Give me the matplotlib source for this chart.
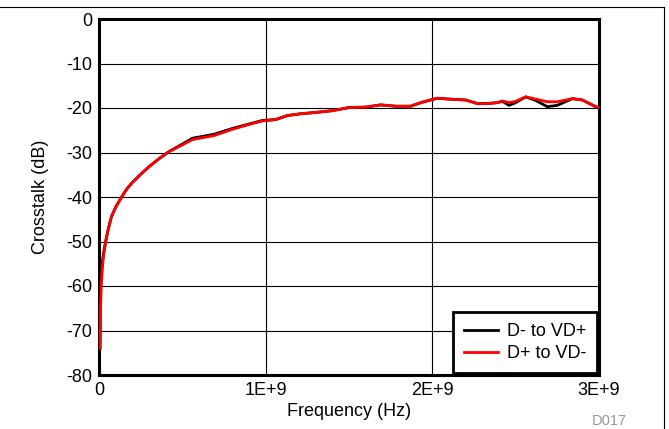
import matplotlib
matplotlib.use("Agg")
import matplotlib.pyplot as plt
from matplotlib.lines import Line2D

plt.rcParams['font.family'] = ['Liberation Sans', 'DejaVu Sans']
plt.rcParams['axes.unicode_minus'] = False

# Frequency points (Hz) and crosstalk (dB)
freq = [0.006e9, 0.008e9, 0.013e9, 0.022e9, 0.03e9, 0.04e9, 0.055e9, 0.075e9,
        0.1e9, 0.136e9, 0.165e9, 0.196e9, 0.25e9, 0.3e9, 0.36e9, 0.42e9, 0.5e9,
        0.56e9, 0.69e9, 0.8e9, 0.89e9, 0.98e9, 1.06e9, 1.13e9, 1.21e9, 1.3e9,
        1.4e9, 1.5e9, 1.6e9, 1.69e9, 1.78e9, 1.87e9, 1.93e9, 2.03e9, 2.1e9,
        2.2e9, 2.27e9, 2.33e9, 2.39e9, 2.42e9, 2.46e9, 2.5e9, 2.56e9, 2.62e9,
        2.69e9, 2.75e9, 2.84e9, 2.9e9, 2.98e9, 3.0e9]

d_minus_vd_plus = [-74, -64, -58, -54, -52, -50, -47.3, -44.4,
                   -42.3, -40, -38.3, -36.9, -34.9, -33.2, -31.4, -29.8, -28.1,
                   -26.8, -25.9, -24.6, -23.7, -22.8, -22.6, -21.7, -21.3, -21.0,
                   -20.6, -19.9, -19.8, -19.3, -19.6, -19.6, -18.8, -17.8, -18.0,
                   -18.2, -19.0, -19.0, -18.8, -18.5, -19.4, -18.8, -17.5, -18.3,
                   -19.7, -19.4, -17.9, -18.2, -19.7, -19.9]

d_plus_vd_minus = [-74, -67, -60, -55, -52.5, -50, -47.3, -44.4,
                   -42.3, -40, -38.3, -36.9, -34.9, -33.2, -31.4, -29.8, -28.3,
                   -27.1, -26.2, -24.8, -23.8, -22.9, -22.6, -21.7, -21.3, -21.0,
                   -20.6, -19.9, -19.8, -19.3, -19.6, -19.6, -18.8, -17.8, -18.0,
                   -18.2, -19.0, -19.0, -18.8, -18.4, -18.8, -18.5, -17.5, -18.0,
                   -18.6, -18.6, -17.9, -18.2, -19.7, -19.9]

xticks = [0, 1e9, 2e9, 3e9]
xtick_labels = ['0', '1E+9', '2E+9', '3E+9']
yticks = [0, -10, -20, -30, -40, -50, -60, -70, -80]

fig = plt.figure(figsize=(6.69, 4.29), dpi=100)
ax = fig.add_axes([99/669, 1 - 375/429, 500/669, 356/429])

ax.plot(freq, d_minus_vd_plus, color='black', lw=2, label='D- to VD+', zorder=3)
ax.plot(freq, d_plus_vd_minus, color='#ff0000', lw=2, label='D+ to VD-', zorder=4)

ax.set_xlim(0, 3e9)
ax.set_ylim(-80, 0)
ax.set_xticks(xticks)
ax.set_xticklabels(xtick_labels)
ax.set_yticks(yticks)
ax.tick_params(length=0, labelsize=13, pad=5)
ax.grid(True, color='black', lw=0.8)
ax.set_axisbelow(True)
for s in ax.spines.values():
    s.set_linewidth(2.2)

ax.set_xlabel('Frequency (Hz)', fontsize=13, labelpad=3)
ax.set_ylabel('Crosstalk (dB)', fontsize=13, labelpad=12)

leg = ax.legend(loc='lower right', fontsize=13, fancybox=False, framealpha=1,
                edgecolor='black', borderaxespad=0.1, handlelength=1.9,
                labelspacing=0.3, borderpad=0.6, handletextpad=0.5)
leg.get_frame().set_linewidth(2)

fig.text(609/669, 1 - 421/429, 'D017', color='#999999', fontsize=10.5,
         ha='center', va='center')

# outer frame (top and right only)
fig.add_artist(Line2D([0, 663.5/669], [1 - 6.5/429, 1 - 6.5/429],
                      color='black', lw=0.8, transform=fig.transFigure))
fig.add_artist(Line2D([663.5/669, 663.5/669], [0, 1 - 6.5/429],
                      color='black', lw=0.8, transform=fig.transFigure))

fig.savefig('out.png', dpi=100)
